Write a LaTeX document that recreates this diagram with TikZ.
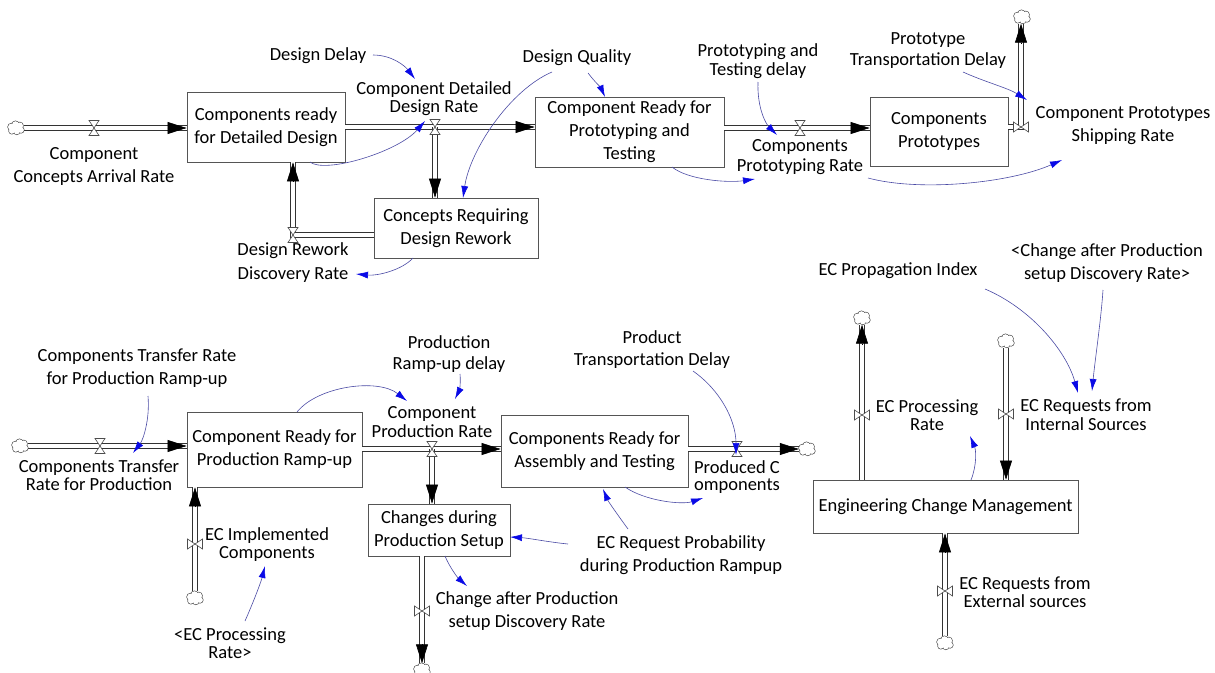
\documentclass[tikz,border=0pt]{standalone}
\usepackage{fontspec}
\setmainfont{Carlito}
\usetikzlibrary{arrows.meta,calc}
\definecolor{infoline}{RGB}{75,75,165}
\definecolor{infotip}{RGB}{10,10,230}
\definecolor{boxline}{RGB}{85,85,85}
\tikzset{
 stock/.style={draw=boxline, fill=white, line width=0.8pt, align=center, inner sep=0pt, font=\fontsize{18.5}{23}\selectfont},
 lbl/.style={align=center, inner sep=0pt, font=\fontsize{18.5}{#1}\selectfont},
 lbl/.default=23,
 pipe/.style={draw=black!80, double=white, double distance=3.2pt, line width=0.95pt},
 flowtip/.style={-{Triangle[length=19pt,width=12pt]}, line width=0.6pt, black},
 info/.style={draw=infoline, line width=0.6pt, -{Latex[length=12pt,width=7pt,color=infotip]}},
 cloudn/.style={draw=none, minimum width=16pt, minimum height=13pt, inner sep=0pt},
 hglass/.pic={\draw[draw=black!70, fill=white, line width=0.6pt] (-5,-7.5) -- (5,-7.5) -- (-5,7.5) -- (5,7.5) -- cycle;},
 bowtie/.pic={\draw[draw=black!70, fill=white, line width=0.6pt] (-7.5,-5) -- (-7.5,5) -- (7.5,-5) -- (7.5,5) -- cycle;},
 cloudpic/.pic={
   \draw[draw=black!75, line width=1.2pt] (-4.5,-1) circle (3.5pt) (-0.5,-3.5) circle (3.3pt) (3.8,-2.3) circle (3.3pt) (5,2) circle (2.9pt) (0.8,3.4) circle (3pt) (-4.2,3) circle (2.8pt);
   \fill[white] (-4.5,-1) circle (3.5pt) (-0.5,-3.5) circle (3.3pt) (3.8,-2.3) circle (3.3pt) (5,2) circle (2.9pt) (0.8,3.4) circle (3pt) (-4.2,3) circle (2.8pt) (0,0) circle (3.5pt);
 },
}
\begin{document}
\begin{tikzpicture}[x=1pt,y=-1pt]
\fill[white] (0,0) rectangle (1215,672);
\useasboundingbox (0,0) rectangle (1215,672);

% ---------- top part ----------
\node[cloudn] (c1) at (16,128) {};
\coordinate (v1) at (94,128);
\node[stock, minimum width=158pt, minimum height=70pt] (box1) at (266,127) {Components ready\\for Detailed Design};
\node[lbl] (lccar) at (94,166) {Component\\Concepts Arrival Rate};
\coordinate (v2) at (435,127);
\node[lbl=18] (lcddr) at (434,99) {Component Detailed\\Design Rate};
\node[lbl] (ldd) at (318,56) {Design Delay};
\node[stock, minimum width=189pt, minimum height=70pt] (box2) at (629.5,132) {Component Ready for\\Prototyping and\\Testing};
\node[stock, minimum width=164pt, minimum height=60pt] (boxc) at (456,228) {Concepts Requiring\\Design Rework};
\node[lbl] (ldq) at (577,58) {Design Quality};
\coordinate (vrw) at (293,235);
\node[lbl=24] (ldrdr) at (293,263) {Design Rework\\Discovery Rate};
\node[lbl=19] (lptd) at (758,61.5) {Prototyping and\\Testing delay};
\coordinate (v3) at (800,128);
\node[lbl=20] (lcpr) at (800,157) {Components\\Prototyping Rate};
\node[stock, minimum width=138pt, minimum height=69pt] (box3) at (939,131.5) {Components\\Prototypes};
\coordinate (v4) at (1021,127);
\node[cloudn] (c2) at (1022,17) {};
\node[lbl=21] (lptrd) at (928,50.5) {Prototype\\Transportation Delay};
\node[lbl] (lcpsr) at (1123,125.5) {Component Prototypes\\Shipping Rate};

% ---------- bottom-left part ----------
\node[cloudn] (c3) at (20,446) {};
\coordinate (v5) at (100,446);
\node[stock, minimum width=175pt, minimum height=75pt] (box4) at (274.5,449.5) {Component Ready for\\Production Ramp-up};
\node[lbl] (lctrpr) at (137,368.5) {Components Transfer Rate\\for Production Ramp-up};
\node[lbl=18] (lctrp) at (99,475) {Components Transfer\\Rate for Production};
\coordinate (v6) at (195,544);
\node[cloudn] (c4) at (195,598) {};
\node[lbl=18] (lecic) at (267,545) {EC Implemented\\Components};
\node[lbl=18] (lecpr2) at (230,643) {<EC Processing\\Rate>};
\node[lbl=21] (lprd) at (449,354) {Production\\Ramp-up delay};
\node[lbl=19] (lcpr2) at (432,422) {Component\\Production Rate};
\coordinate (v7) at (432,449);
\node[stock, minimum width=187pt, minimum height=72pt] (box5) at (594.5,451) {Components Ready for\\Assembly and Testing};
\coordinate (v8) at (737,449);
\node[cloudn] (c5) at (807,449) {};
\node[lbl=22] (lptd2) at (652,350) {Product\\Transportation Delay};
\node[lbl=17] (lpc) at (737,477.5) {Produced C\\omponents};
\node[stock, minimum width=142pt, minimum height=52pt] (box6) at (439,530) {Changes during\\Production Setup};
\coordinate (v9) at (422,611);
\node[cloudn] (c6) at (422,670) {};
\node[lbl] (lcapsdr) at (527,611) {Change after Production\\setup Discovery Rate};
\node[lbl] (lecrp) at (681,555.5) {EC Request Probability\\during Production Rampup};

% ---------- right part ----------
\node[stock, minimum width=265pt, minimum height=53pt] (box7) at (945.5,506.5) {Engineering Change Management};
\coordinate (v10) at (862,415);
\node[cloudn] (c7) at (862,318) {};
\node[lbl=18] (lecpr) at (927,415.5) {EC Processing\\Rate};
\node[cloudn] (c8) at (1006,341) {};
\coordinate (v11) at (1006,414);
\node[lbl=19] (lecris) at (1086,414.5) {EC Requests from\\Internal Sources};
\node[cloudn] (c9) at (945,643) {};
\coordinate (v12) at (945,591);
\node[lbl=18] (lecres) at (1025,592) {EC Requests from\\External sources};
\node[lbl] (lecpi) at (898,271) {EC Propagation Index};
\node[lbl] (lcapsdr2) at (1107,263.5) {<Change after Production\\setup Discovery Rate>};

% ---------- pipes ----------
\draw[pipe] (c1.east) -- (v1 -| box1.west);
\draw[pipe] (v2 -| box1.east) -- (v2 -| box2.west);
\draw[pipe] (v2) -- (v2 |- boxc.north);
\draw[pipe] (vrw -| boxc.west) -- (vrw) -- (vrw |- box1.south);
\draw[pipe] (v3 -| box2.east) -- (v3 -| box3.west);
\draw[pipe] (v4 -| box3.east) -- (v4) -- (v4 |- c2.south);
\draw[pipe] (c3.east) -- (v5 -| box4.west);
\draw[pipe] (v7 -| box4.east) -- (v7 -| box5.west);
\draw[pipe] (v7) -- (v7 |- box6.north);
\draw[pipe] (v8 -| box5.east) -- (c5.west);
\draw[pipe] (v9 |- box6.south) -- (c6.north);
\draw[pipe] (c4.north) -- (v6 |- box4.south);
\draw[pipe] (v10 |- box7.north) -- (c7.south);
\draw[pipe] (c8.south) -- (v11 |- box7.north);
\draw[pipe] (c9.north) -- (v12 |- box7.south);

% ---------- valves ----------
\pic at (v1) {hglass};
\pic at (v2) {hglass};
\pic at (vrw) {hglass};
\pic at (v3) {hglass};
\pic at (v5) {hglass};
\pic at (v7) {hglass};
\pic at (v8) {hglass};
\pic at (v4) {bowtie};
\pic at (v6) {bowtie};
\pic at (v9) {bowtie};
\pic at (v10) {bowtie};
\pic at (v11) {bowtie};
\pic at (v12) {bowtie};

% ---------- clouds ----------
\foreach \c in {c1,c2,c3,c4,c5,c6,c7,c8,c9} {\pic at (\c) {cloudpic};}

% ---------- flow arrow tips ----------
\draw[flowtip] ($(v1 -| box1.west)+(-19,0)$) -- (v1 -| box1.west);
\draw[flowtip] ($(v2 -| box2.west)+(-19,0)$) -- (v2 -| box2.west);
\draw[flowtip] ($(v2 |- boxc.north)+(0,-19)$) -- (v2 |- boxc.north);
\draw[flowtip] ($(vrw |- box1.south)+(0,19)$) -- (vrw |- box1.south);
\draw[flowtip] ($(v3 -| box3.west)+(-19,0)$) -- (v3 -| box3.west);
\draw[flowtip] ($(v4 |- c2.south)+(0,20)$) -- (v4 |- c2.south);
\draw[flowtip] ($(v5 -| box4.west)+(-19,0)$) -- (v5 -| box4.west);
\draw[flowtip] ($(v7 -| box5.west)+(-19,0)$) -- (v7 -| box5.west);
\draw[flowtip] ($(v7 |- box6.north)+(0,-19)$) -- (v7 |- box6.north);
\draw[flowtip] ($(c5.west)+(-19,0)$) -- (c5.west);
\draw[flowtip] ($(c6.north)+(0,-19)$) -- (c6.north);
\draw[flowtip] ($(v6 |- box4.south)+(0,19)$) -- (v6 |- box4.south);
\draw[flowtip] ($(c7.south)+(0,19)$) -- (c7.south);
\draw[flowtip] ($(v11 |- box7.north)+(0,-19)$) -- (v11 |- box7.north);
\draw[flowtip] ($(v12 |- box7.south)+(0,19)$) -- (v12 |- box7.south);

% ---------- information links ----------
\draw[info] ([shift={(55,-1)}]ldd.center) .. controls +(19,0) and +(-10,-13) .. ([shift={(-19,-20)}]lcddr.center);
\draw[info] ([shift={(44,35)}]box1.center) .. controls +(15,12) and +(-27,31) .. ([shift={(-10,-6)}]v2);
\draw[info] ([shift={(11,15)}]ldq.center) .. controls +(7,9) and +(-4,-9) .. ([shift={(-24.5,-35)}]box2.center);
\draw[info] ([shift={(-25,14)}]ldq.center) .. controls +(-42,18) and +(7,-48) .. ([shift={(7,-30)}]boxc.center);
\draw[info] ([shift={(-43,30)}]boxc.center) .. controls +(-11,12) and +(22,2) .. ([shift={(63,11)}]ldrdr.center);
\draw[info] ([shift={(42.5,35)}]box2.center) .. controls +(16,13) and +(-27,4) .. ([shift={(-45,22)}]lcpr.center);
\draw[info] ([shift={(0,20.5)}]lptd.center) .. controls +(-1,26) and +(-11,-11) .. ([shift={(-23,-22)}]lcpr.center);
\draw[info] ([shift={(68,21)}]lcpr.center) .. controls +(52,14) and +(-52,23) .. ([shift={(-61,34.5)}]lcpsr.center);
\draw[info] ([shift={(35,21.5)}]lptrd.center) .. controls +(22,10) and +(-19,-12) .. ([shift={(6,-27)}]v4);

\draw[info] ([shift={(11,27.5)}]lctrpr.center) .. controls +(2,24) and +(10,-13) .. ([shift={(34,-22)}]lctrp.center);
\draw[info] ([shift={(22.5,-37.5)}]box4.center) .. controls +(21,-26) and +(-29,-23) .. ([shift={(-25,-21)}]lcpr2.center);
\draw[info] ([shift={(11,20)}]lprd.center) .. controls +(1,10) and +(4,-8) .. ([shift={(23,-23)}]lcpr2.center);
\draw[info] ([shift={(15,-22)}]lecpr2.center) .. controls +(8,-18) and +(-4,16) .. ([shift={(-2,21)}]lecic.center);
\draw[info] ([shift={(41,21)}]lptd2.center) .. controls +(27,19) and +(0,-35) .. ([shift={(-1,6)}]v8);
\draw[info] ([shift={(30.5,36)}]box5.center) .. controls +(20,14) and +(-21,7) .. ([shift={(-34,20.5)}]lpc.center);
\draw[info] ([shift={(-53,-26.5)}]lecrp.center) .. controls +(-11,-15) and +(5,12) .. ([shift={(8.5,38)}]box5.center);
\draw[info] ([shift={(-113,-11.5)}]lecrp.center) .. controls +(-20,-2) and +(18,1) .. ([shift={(71,7)}]box6.center);
\draw[info] ([shift={(6,26)}]box6.center) .. controls +(5,12) and +(-9,-8) .. ([shift={(-60,-25)}]lcapsdr.center);

\draw[info] ([shift={(25.5,-26.5)}]box7.center) .. controls +(6,-15) and +(6,14) .. ([shift={(43,20.5)}]lecpr.center);
\draw[info] ([shift={(87,18)}]lecpi.center) .. controls +(45,19) and +(-12,-43) .. ([shift={(-8,-21.5)}]lecris.center);
\draw[info] ([shift={(-4,26.5)}]lcapsdr2.center) .. controls +(-2,30) and +(3,-31) .. ([shift={(6,-23.5)}]lecris.center);
\end{tikzpicture}
\end{document}
